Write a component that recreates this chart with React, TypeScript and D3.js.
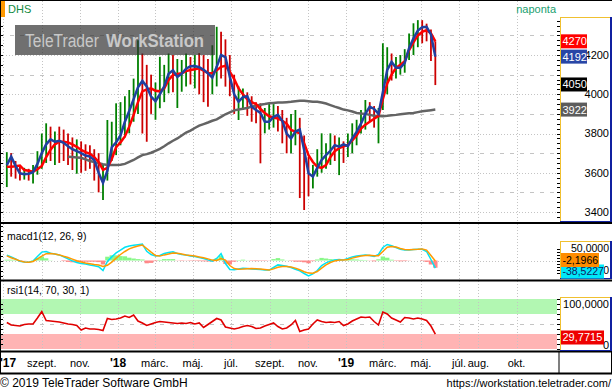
import React, { useEffect, useRef } from 'react';
import * as d3 from 'd3';

// weekly samples (Fridays), first one 7 Jul 2017
const startDate = new Date(2017, 6, 7);

const closes = [
  3660, 3650, 3600, 3590, 3600, 3590, 3620, 3680, 3740, 3770,
  3760, 3770, 3750, 3740, 3720, 3700, 3715, 3690, 3680, 3670,
  3620, 3540, 3580, 3740, 3760, 3800, 3850, 3900, 3960, 4020,
  4080, 4010, 3980, 3960, 4010, 4050, 4090, 4130, 4090, 4100,
  4130, 4150, 4140, 4150, 4130, 4110, 4080, 4150, 4220, 4190,
  4100, 4010, 3950, 3990, 3990, 3930, 3920, 3900, 3850, 3870,
  3890, 3900, 3860, 3790, 3770, 3820, 3830, 3700, 3580, 3570,
  3630, 3670, 3690, 3710, 3750, 3730, 3740, 3730, 3780, 3810,
  3850, 3900, 3940, 3920, 3900, 3920, 4140, 4170, 4130, 4140,
  4160, 4220, 4290, 4330, 4345, 4340, 4300, 4190, 4050
];
const highs = [
  3705, 3700, 3660, 3640, 3625, 3620, 3640, 3710, 3800, 3852,
  3835, 3810, 3835, 3820, 3800, 3780, 3770, 3760, 3745, 3740,
  3720, 3700, 3640, 3869, 3860, 3954, 3960, 3990, 4022, 4080,
  4276, 4208, 4150, 4100, 4060, 4191, 4150, 4208, 4200, 4180,
  4175, 4208, 4190, 4200, 4210, 4200, 4180, 4250, 4344, 4319,
  4280, 4200, 4100, 4040, 4030, 4010, 3990, 3960, 3954, 3930,
  3954, 3950, 3940, 3920, 3880, 3900, 3920, 3880, 3790, 3680,
  3640, 3720, 3801, 3750, 3801, 3790, 3780, 3760, 3800, 3852,
  3870, 3920, 3971, 3960, 3940, 3930, 4260, 4240, 4208, 4190,
  4200, 4230, 4310, 4362, 4378, 4378, 4360, 4330, 4270
];
const lows = [
  3527, 3580, 3570, 3560, 3565, 3560, 3545, 3590, 3620, 3650,
  3660, 3640, 3650, 3660, 3640, 3614, 3595, 3600, 3610, 3620,
  3560, 3500, 3461, 3560, 3660, 3690, 3740, 3780, 3801, 3860,
  3900, 3800, 3758, 3900, 3870, 3929, 3960, 4005, 4010, 3930,
  4013, 4040, 4050, 4030, 4000, 3960, 3937, 4000, 4040, 4080,
  4039, 3990, 3900, 3869, 3920, 3890, 3860, 3852, 3648, 3801,
  3820, 3830, 3810, 3750, 3699, 3699, 3740, 3471, 3410, 3480,
  3520, 3580, 3600, 3620, 3640, 3660, 3588, 3650, 3680, 3700,
  3740, 3800, 3820, 3860, 3830, 3750, 3920, 4000, 4070, 4080,
  4100, 4110, 4175, 4200, 4240, 4260, 4270, 4170, 4047
];
// blue
const maFast = [
  3639, 3682, 3635, 3597, 3593, 3595, 3603, 3645, 3700, 3745,
  3770, 3758, 3763, 3753, 3735, 3720, 3710, 3700, 3688, 3682,
  3665, 3600, 3548, 3610, 3730, 3755, 3790, 3860, 3915, 3975,
  4035, 4068, 4040, 3988, 3965, 4000, 4040, 4105, 4122, 4088,
  4105, 4130, 4143, 4144, 4138, 4125, 4107, 4085, 4140, 4200,
  4190, 4090, 4000, 3962, 3985, 3990, 3937, 3920, 3905, 3860,
  3860, 3885, 3895, 3865, 3800, 3775, 3810, 3820, 3716, 3597,
  3580, 3625, 3665, 3690, 3712, 3740, 3733, 3745, 3735, 3775,
  3808, 3850, 3900, 3937, 3925, 3900, 4010, 4124, 4165, 4135,
  4135, 4160, 4235, 4285, 4325, 4342, 4344, 4305, 4192
];
// red
const maSlow = [
  3631, 3631, 3633, 3637, 3614, 3610, 3605, 3618, 3635, 3680,
  3718, 3745, 3758, 3758, 3755, 3745, 3732, 3716, 3705, 3697,
  3680, 3655, 3615, 3625, 3670, 3730, 3755, 3785, 3835, 3895,
  3960, 4015, 4025, 4030, 4018, 4015, 4030, 4073, 4098, 4103,
  4107, 4118, 4124, 4128, 4132, 4120, 4108, 4107, 4122, 4140,
  4145, 4115, 4078, 4030, 4000, 3975, 3960, 3950, 3925, 3905,
  3888, 3882, 3877, 3865, 3850, 3818, 3810, 3801, 3750, 3690,
  3655, 3630, 3625, 3639, 3680, 3710, 3725, 3735, 3742, 3765,
  3790, 3825, 3845, 3860, 3875, 3890, 3975, 4055, 4100, 4135,
  4150, 4168, 4225, 4265, 4300, 4318, 4327, 4311, 4270
];
// gray, begins at week 14
const ma200Start = 14;
const ma200 = [
  3682, 3680, 3678, 3676, 3668, 3660, 3655, 3648, 3643, 3640,
  3639, 3639, 3641, 3645, 3655, 3665, 3678, 3690, 3695, 3702,
  3712, 3722, 3735, 3750, 3763, 3775, 3790, 3805, 3815, 3828,
  3840, 3848, 3856, 3865, 3872, 3885, 3898, 3908, 3918, 3922,
  3926, 3930, 3937, 3942, 3947, 3950, 3954, 3956, 3958, 3958,
  3960, 3962, 3965, 3967, 3967, 3965, 3962, 3962, 3958, 3953,
  3945, 3937, 3930, 3922, 3918, 3912, 3905, 3902, 3900, 3895,
  3890, 3889, 3888, 3890, 3893, 3895, 3898, 3901, 3903, 3905,
  3909, 3913, 3916, 3919, 3922
];
const macdValues = [
  27, 18, 8, -4, -8, -9, -3, 20, 42, 45,
  36, 32, 28, 18, 8, -2, -10, -15, -18, -22,
  -26, -31, -50, -5, 18, 38, 52, 66, 72, 76,
  79, 82, 46, 30, 22, 25, 35, 40, 44, 35,
  30, 27, 23, 20, 15, 10, 3, -3, 10, 34,
  -15, -45, -46, -42, -39, -40, -42, -44, -45, -47,
  -48, -35, -22, -25, -29, -35, -44, -52, -65, -77,
  -67, -50, -25, -12, -3, 3, 5, 3, 10, 18,
  22, 25, 27, 25, 20, 30, 65, 80, 74, 65,
  56, 52, 53, 55, 56, 56, 45, 5, -38.5227
];
const signalValues = [
  23, 14, 6, -2, -7, -9, -5, 8, 22, 34,
  35, 32, 28, 21, 15, 7, -1, -7, -12, -16,
  -20, -23, -30, -24, -8, 12, 30, 45, 58, 66,
  72, 77, 60, 42, 25, 22, 28, 33, 37, 36,
  32, 28, 25, 22, 18, 14, 8, 2, 0, 10,
  2, -25, -40, -44, -43, -41, -40, -41, -43, -45,
  -47, -42, -34, -30, -30, -33, -38, -46, -56, -63,
  -64, -55, -38, -22, -10, -2, 2, 3, 5, 12,
  17, 22, 25, 26, 24, 24, 45, 66, 70, 67,
  60, 55, 54, 55, 56, 58, 52, 25, -2.1966
];
const rsiValues = [
  53, 48, 47, 46, 49, 50, 50, 62, 75, 57,
  56, 55, 54, 52, 50, 49, 47, 38, 42, 40,
  40, 39, 37, 61, 59, 60, 62, 66, 63, 68,
  56, 52, 47, 50, 53, 55, 54, 53, 52, 51,
  52, 51, 53, 50, 52, 43, 49, 55, 61, 58,
  44, 42, 40, 42, 45, 47, 45, 41, 42, 46,
  49, 52, 45, 40, 42, 48, 57, 35, 38, 40,
  50, 58, 55, 53, 54, 53, 55, 47, 50, 56,
  60, 64, 63, 64, 55, 48, 74, 70, 62, 58,
  54, 63, 62, 60, 62, 60, 57, 46, 29.7715
];

const tickDates = [
  '2017-07-01', '2017-09-01', '2017-11-01', '2018-01-01', '2018-03-01', '2018-05-01',
  '2018-07-01', '2018-09-01', '2018-11-01', '2019-01-01', '2019-03-01', '2019-05-01',
  '2019-07-01', '2019-08-01', '2019-10-01'
];
const tickLabels = [
  "'17", 'szept.', 'nov.', "'18", 'márc.', 'máj.', 'júl.', 'szept.', 'nov.',
  "'19", 'márc.', 'máj.', 'júl.', 'aug.', 'okt.'
];
const priceTicks = [3400, 3600, 3800, 4000, 4200];
const macdTicks = [50, -50];
const rsiTicks = [100, 0];

const FONT = "'Liberation Sans', Arial, sans-serif";

const fmt4 = (v: number) => d3.format('.4f')(v).replace('.', ',').replace('−', '-');

const App = () => {
  const ref = useRef<SVGSVGElement>(null);

  useEffect(() => {
    if (!ref.current) return;
    const svg = d3.select(ref.current);
    svg.selectAll('*').remove();

    const PR = 557; // right edge of plots
    const weeks = closes.map((c, i) => ({
      date: d3.timeDay.offset(startDate, 7 * i),
      close: c, high: highs[i], low: lows[i],
      fast: maFast[i], slow: maSlow[i],
      ma200: i >= ma200Start ? ma200[i - ma200Start] : null,
      macd: macdValues[i], signal: signalValues[i], rsi: rsiValues[i]
    }));

    const x = d3.scaleTime()
      .domain([new Date(2018, 0, 1), new Date(2019, 0, 1)])
      .range([118, 346]);
    const yMain = d3.scaleLinear().domain([3354, 4394]).range([221, 17]);
    const yMacd = d3.scaleLinear().domain([-92.5, 182.5]).range([279, 224]);
    const yRsi = d3.scaleLinear().domain([0, 100]).range([349, 299]);
    const ticks = tickDates.map((t, i) => ({ date: d3.timeParse('%Y-%m-%d')(t) as Date, label: tickLabels[i] }));

    svg.append('rect').attr('width', 612).attr('height', 392).attr('fill', '#fff');

    const defs = svg.append('defs');
    const clip = (id: string, y0: number, y1: number) =>
      defs.append('clipPath').attr('id', id).append('rect')
        .attr('x', 1).attr('y', y0).attr('width', PR - 1).attr('height', y1 - y0);
    clip('cMain', 1, 222);
    clip('cMacd', 224, 279);
    clip('cRsi', 281, 350);
    defs.append('clipPath').attr('id', 'cTail').append('rect')
      .attr('x', 604).attr('y', 260).attr('width', 8).attr('height', 20);

    const vGrid = (g: any, y0: number, y1: number) => {
      g.selectAll('line.vg').data(ticks).join('line')
        .attr('x1', (d: any) => Math.round(x(d.date)) + 0.5).attr('x2', (d: any) => Math.round(x(d.date)) + 0.5)
        .attr('y1', y0).attr('y2', y1)
        .attr('stroke', '#c4c4c4').attr('stroke-dasharray', '1,2');
    };

    // ---------- main panel ----------
    const gMain = svg.append('g').attr('clip-path', 'url(#cMain)');
    vGrid(gMain, 1, 222);
    gMain.selectAll('line.hg').data(d3.range(3400, 4400, 100)).join('line')
      .attr('x1', 0).attr('x2', PR)
      .attr('y1', d => Math.round(yMain(d)) + 0.5).attr('y2', d => Math.round(yMain(d)) + 0.5)
      .attr('stroke', '#c4c4c4')
      .attr('stroke-dasharray', d => (d % 200 === 0 ? '1,2' : '4,6'));

    gMain.selectAll('line.bar').data(weeks).join('line')
      .attr('x1', d => x(d.date)).attr('x2', d => x(d.date))
      .attr('y1', d => yMain(d.high)).attr('y2', d => yMain(d.low))
      .attr('stroke', (d, i) => (i === 0 || d.close >= weeks[i - 1].close ? '#008000' : '#cc0000'))
      .attr('stroke-width', 1.8);

    const priceLine = (key: 'fast' | 'slow' | 'ma200') =>
      d3.line<any>().defined(d => d[key] != null).x(d => x(d.date)).y(d => yMain(d[key]));
    gMain.append('path').attr('d', priceLine('ma200')(weeks)).attr('fill', 'none')
      .attr('stroke', '#646464').attr('stroke-width', 2.5);
    gMain.append('path').attr('d', priceLine('slow')(weeks)).attr('fill', 'none')
      .attr('stroke', '#ff0000').attr('stroke-width', 2.5);
    gMain.append('path').attr('d', priceLine('fast')(weeks)).attr('fill', 'none')
      .attr('stroke', '#2040a0').attr('stroke-width', 2.5);

    // watermark (the original face is narrower, so squeeze horizontally)
    svg.append('rect').attr('x', 15).attr('y', 25).attr('width', 200).attr('height', 30)
      .attr('fill', '#303030').attr('opacity', 0.69);
    svg.append('text').attr('transform', 'translate(25,47) scale(0.82,1)')
      .attr('font-family', FONT).attr('font-size', 19).attr('fill', '#c8c8c8').text('TeleTrader');
    svg.append('text').attr('transform', 'translate(106,47) scale(0.88,1)')
      .attr('font-family', FONT).attr('font-size', 19).attr('font-weight', 'bold')
      .attr('fill', '#c8c8c8').text('WorkStation');

    // header
    svg.append('rect').attr('x', 0).attr('y', 1).attr('width', 5).attr('height', 16).attr('fill', '#ff9900');
    svg.append('text').attr('x', 8).attr('y', 13).attr('font-family', FONT).attr('font-size', 11)
      .attr('fill', '#108a40').text('DHS');
    svg.append('text').attr('x', 556).attr('y', 13).attr('text-anchor', 'end').attr('font-family', FONT)
      .attr('font-size', 11).attr('fill', '#20a070').text('naponta');

    // ---------- MACD panel ----------
    const gMacd = svg.append('g').attr('clip-path', 'url(#cMacd)');
    vGrid(gMacd, 224, 279);
    gMacd.append('line').attr('x1', 0).attr('x2', PR)
      .attr('y1', Math.round(yMacd(0)) + 0.5).attr('y2', Math.round(yMacd(0)) + 0.5)
      .attr('stroke', '#c4c4c4').attr('stroke-dasharray', '1,2');
    gMacd.selectAll('rect.h').data(weeks).join('rect')
      .attr('x', d => x(d.date) - 2.2).attr('width', 4.4)
      .attr('y', d => yMacd(Math.max(0, d.macd - d.signal)))
      .attr('height', d => Math.abs(yMacd(d.macd - d.signal) - yMacd(0)))
      .attr('fill', d => (d.macd - d.signal >= 0 ? '#88f888' : '#ff8888'));
    gMacd.append('path').attr('d', d3.line<any>().x(d => x(d.date)).y(d => yMacd(d.macd))(weeks))
      .attr('fill', 'none').attr('stroke', '#00e4f4').attr('stroke-width', 1.5);
    gMacd.append('path').attr('d', d3.line<any>().x(d => x(d.date)).y(d => yMacd(d.signal))(weeks))
      .attr('fill', 'none').attr('stroke', '#ff9a00').attr('stroke-width', 1.5);
    svg.append('text').attr('x', 7).attr('y', 240).attr('font-family', FONT).attr('font-size', 10.5)
      .attr('fill', '#000').text('macd1(12, 26, 9)');

    // ---------- RSI panel ----------
    const gRsi = svg.append('g').attr('clip-path', 'url(#cRsi)');
    gRsi.append('rect').attr('x', 0).attr('width', PR).attr('y', yRsi(100)).attr('height', yRsi(70) - yRsi(100))
      .attr('fill', '#b2f7b2');
    gRsi.append('rect').attr('x', 0).attr('width', PR).attr('y', yRsi(30)).attr('height', yRsi(0) - yRsi(30))
      .attr('fill', '#ffb4b4');
    vGrid(gRsi, 281, 350);
    gRsi.append('line').attr('x1', 0).attr('x2', PR)
      .attr('y1', Math.round(yRsi(50)) + 0.5).attr('y2', Math.round(yRsi(50)) + 0.5)
      .attr('stroke', '#c4c4c4').attr('stroke-dasharray', '4,6');
    gRsi.append('path').attr('d', d3.line<any>().x(d => x(d.date)).y(d => yRsi(d.rsi))(weeks))
      .attr('fill', 'none').attr('stroke', '#e00000').attr('stroke-width', 1.6);
    svg.append('text').attr('x', 7).attr('y', 294).attr('font-family', FONT).attr('font-size', 10.5)
      .attr('fill', '#000').text('rsi1(14, 70, 30, 1)');

    // ---------- frame & separators ----------
    svg.append('rect').attr('x', 0).attr('y', 0).attr('width', 612).attr('height', 1).attr('fill', '#000');
    svg.append('rect').attr('x', 0).attr('y', 0).attr('width', 1).attr('height', 374).attr('fill', '#000');
    [222, 279.5, 350.5, 372.5].forEach(yy =>
      svg.append('rect').attr('x', 0).attr('y', yy).attr('width', 612).attr('height', 2).attr('fill', '#000'));
    svg.append('rect').attr('x', 558.5).attr('y', 352).attr('width', 1).attr('height', 21).attr('fill', '#000');
    svg.append('rect').attr('x', 611).attr('y', 352).attr('width', 1).attr('height', 21).attr('fill', '#000');

    // left edge ticks
    const leftTicks = (vals: number[], y: (v: number) => number) =>
      svg.append('g').selectAll('line').data(vals).join('line')
        .attr('x1', 0).attr('x2', 3)
        .attr('y1', d => Math.round(y(d)) + 0.5).attr('y2', d => Math.round(y(d)) + 0.5)
        .attr('stroke', '#000');
    leftTicks(d3.range(3400, 4400, 50), yMain);
    leftTicks(d3.range(-75, 176, 25), yMacd);
    leftTicks(d3.range(10, 100, 10), yRsi);

    // ---------- right axis boxes ----------
    const box = (y0: number, y1: number) => {
      const g = svg.append('g');
      g.append('rect').attr('x', 560.5).attr('y', y0 + 0.5).attr('width', 50).attr('height', y1 - y0)
        .attr('fill', '#fff').attr('stroke', '#f0c030');
      g.append('line').attr('x1', 611).attr('x2', 611).attr('y1', y0).attr('y2', y1 + 1)
        .attr('stroke', '#1020a0').attr('stroke-width', 2);
      g.append('line').attr('x1', 560).attr('x2', 612).attr('y1', y1 + 0.5).attr('y2', y1 + 0.5)
        .attr('stroke', '#1020a0');
    };
    box(17, 221);
    box(241, 278);
    box(297, 350);

    const rightTicks = (vals: number[], y: (v: number) => number) =>
      svg.append('g').selectAll('line').data(vals).join('line')
        .attr('x1', 557).attr('x2', 560)
        .attr('y1', d => Math.round(y(d)) + 0.5).attr('y2', d => Math.round(y(d)) + 0.5)
        .attr('stroke', '#000');
    rightTicks(d3.range(3375, 4394, 25), yMain);
    rightTicks(d3.range(-60, 61, 15), yMacd);
    rightTicks(d3.range(0, 101, 10), yRsi);

    const axisText = (txt: string, yy: number, size: number, clipId?: string) => {
      const t = svg.append('text').attr('x', 609).attr('y', yy).attr('dy', '0.35em').attr('text-anchor', 'end')
        .attr('font-family', FONT).attr('font-size', size).attr('fill', '#000').text(txt);
      if (clipId) t.attr('clip-path', `url(#${clipId})`);
    };
    priceTicks.forEach(v => axisText(String(v), yMain(v), 11));
    // the lower macd label sits behind the value boxes, only its tail shows
    macdTicks.forEach(v => axisText(fmt4(v), v > 0 ? yMacd(v) - 2 : yMacd(v), 10.5, v < 0 ? 'cTail' : undefined));
    rsiTicks.forEach(v => axisText(v === 0 ? '0' : fmt4(v), v === 0 ? 345 : 304.5, 11));

    const valueBox = (txt: string, yc: number, w: number, bg: string, fg: string, size = 11) => {
      svg.append('rect').attr('x', 561).attr('y', yc - 7).attr('width', w).attr('height', 14).attr('fill', bg);
      svg.append('text').attr('x', 562.5).attr('y', yc).attr('dy', '0.36em').attr('font-family', FONT)
        .attr('font-size', size).attr('fill', fg).text(txt);
    };
    const last = weeks.length - 1;
    const lastMa200 = ma200[ma200.length - 1];
    valueBox(String(maSlow[last]), yMain(maSlow[last]), 26, '#ff0000', '#fff');
    valueBox(String(maFast[last]), yMain(maFast[last]), 26, '#2846a6', '#fff');
    valueBox(String(closes[last]), yMain(closes[last]), 26, '#000', '#fff');
    valueBox(String(lastMa200), yMain(lastMa200), 26, '#5c5c5c', '#fff');
    valueBox(fmt4(macdValues[last]), 271.5, 43, '#00e8f8', '#102060', 10.5);
    valueBox(fmt4(signalValues[last]), 260, 38, '#ff8c00', '#000', 10.5);
    valueBox(fmt4(rsiValues[last]), 337.5, 43, '#ee0000', '#fff');

    // ---------- time axis ----------
    svg.append('g').selectAll('text').data(ticks).join('text')
      .attr('x', d => Math.max(x(d.date), 8))
      .attr('y', 363).attr('dy', '0.35em').attr('text-anchor', 'middle')
      .attr('font-family', FONT)
      .attr('font-size', d => (d.label.startsWith("'") ? 12 : 11))
      .attr('font-weight', d => (d.label.startsWith("'") ? 'bold' : 'normal'))
      .attr('fill', '#000').text(d => d.label);

    // footer
    svg.append('text').attr('x', 0).attr('y', 387).attr('font-family', FONT).attr('font-size', 12)
      .attr('fill', '#000').text('© 2019 TeleTrader Software GmbH');
    svg.append('text').attr('x', 611).attr('y', 387).attr('text-anchor', 'end').attr('font-family', FONT)
      .attr('font-size', 11).attr('fill', '#000').text('https://workstation.teletrader.com/');
  }, []);

  return (
    <div style={{ position: 'absolute', left: 0, top: 0 }}>
      <svg ref={ref} width={612} height={392} style={{ display: 'block' }} />
    </div>
  );
};

export default App;
